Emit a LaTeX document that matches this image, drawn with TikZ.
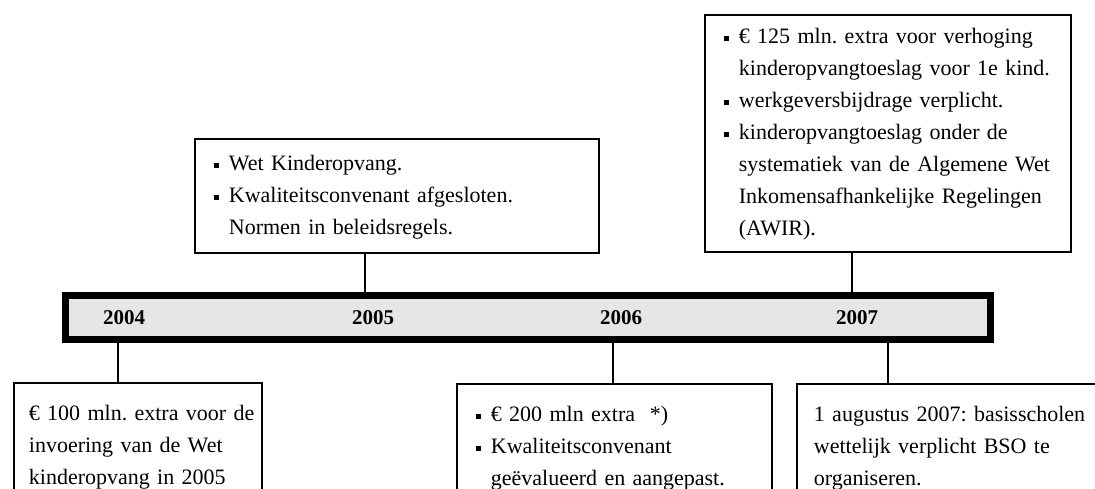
\documentclass[tikz,border=0pt]{standalone}
\usepackage{fontspec}
\setmainfont{Liberation Serif}
\usepackage{xcolor}
\definecolor{barfill}{HTML}{E6E6E6}
\frenchspacing
\newcommand{\itm}{\makebox[7.5pt][l]{\rule[1.3pt]{2.4pt}{2.4pt}}}
\newcommand{\cnt}{\hspace*{7.5pt}}
\tikzset{
    infobox/.style={draw, line width=0.9pt, fill=white, anchor=north west, align=left,
        inner ysep=0pt, font=\fontsize{11}{16}\selectfont},
    yearlbl/.style={font=\fontsize{10.5}{12}\selectfont\bfseries},
    link/.style={line width=0.8pt}
}

\begin{document}
\begin{tikzpicture}[x=0.5pt, y=-0.5pt]
    \useasboundingbox (0,0) rectangle (1095,488);
    \clip (0,0) rectangle (1095,488);

    \node[draw, line width=3.5pt, fill=barfill, minimum width=462.5pt, minimum height=22pt, inner sep=0pt] (bar) at (528,317.5) {};

    \node[yearlbl] (y2004) at (124,318) {2004};
    \node[yearlbl] (y2005) at (373,318) {2005};
    \node[yearlbl] (y2006) at (621,318) {2006};
    \node[yearlbl] (y2007) at (857,318) {2007};

    \node[infobox, minimum width=202pt, minimum height=57pt, inner xsep=9.5pt, text width=183pt] (b2005) at (194,138)
        {\begin{tabular}{@{}l@{}}
            \itm Wet Kinderopvang.\\
            \itm Kwaliteitsconvenant afgesloten.\\
            \cnt Normen in beleidsregels.
        \end{tabular}};
    \node[infobox, minimum width=183pt, minimum height=118.5pt, inner xsep=9.5pt, text width=164pt] (b2007t) at (704,14)
        {\begin{tabular}{@{}l@{}}
            \itm € 125 mln. extra voor verhoging\\
            \cnt kinderopvangtoeslag voor 1e kind.\\
            \itm werkgeversbijdrage verplicht.\\
            \itm kinderopvangtoeslag onder de\\
            \cnt systematiek van de Algemene Wet\\
            \cnt Inkomensafhankelijke Regelingen\\
            \cnt (AWIR).
        \end{tabular}};
    \node[infobox, minimum width=124pt, minimum height=63pt, inner xsep=7.5pt, text width=109pt] (b2004) at (13,382)
        {\begin{tabular}{@{}l@{}}
            € 100 mln. extra voor de\\
            invoering van de Wet\\
            kinderopvang in 2005
        \end{tabular}};
    \node[infobox, minimum width=157.5pt, minimum height=63pt, inner xsep=9.5pt, text width=138.5pt] (b2006) at (456,383)
        {\begin{tabular}{@{}l@{}}
            \itm € 200 mln extra~~*)\\
            \itm Kwaliteitsconvenant\\
            \cnt geëvalueerd en aangepast.
        \end{tabular}};
    \node[infobox, minimum width=160pt, minimum height=63pt, inner xsep=8.5pt, text width=143pt] (b2007b) at (796,383)
        {\begin{tabular}{@{}l@{}}
            1 augustus 2007: basisscholen\\
            wettelijk verplicht BSO te\\
            organiseren.
        \end{tabular}};

    \coordinate (c2004) at (118,0);
    \coordinate (c2005) at (365,0);
    \coordinate (c2006) at (613,0);
    \coordinate (c2007t) at (852,0);
    \coordinate (c2007b) at (888,0);

    \draw[link] (bar.south -| c2004) -- (b2004.north -| c2004);
    \draw[link] (b2005.south -| c2005) -- (bar.north -| c2005);
    \draw[link] (bar.south -| c2006) -- (b2006.north -| c2006);
    \draw[link] (b2007t.south -| c2007t) -- (bar.north -| c2007t);
    \draw[link] (bar.south -| c2007b) -- (b2007b.north -| c2007b);
\end{tikzpicture}
\end{document}
